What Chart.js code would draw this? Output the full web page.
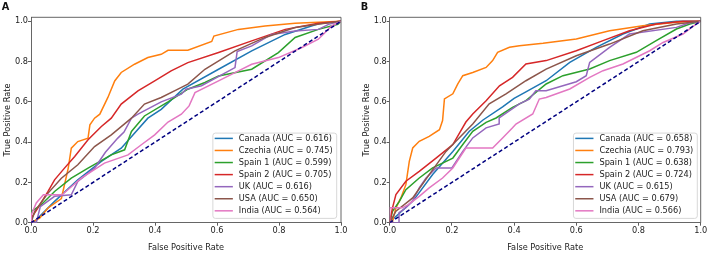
<!DOCTYPE html>
<html><head><meta charset="utf-8">
<script src="https://cdn.jsdelivr.net/npm/chart.js@4.4.1/dist/chart.umd.min.js"></script>
<style>
html,body{margin:0;padding:0;background:#fff;}
#wrap{position:relative;width:708px;height:254px;overflow:hidden;background:#fff;}
canvas{position:absolute;top:0;}
</style></head><body>
<div id="wrap">
<canvas id="cA" width="354" height="254" style="left:0px"></canvas>
<canvas id="cB" width="354" height="254" style="left:354px"></canvas>
</div>
<script>
// ---------- data ----------
const countries = ['Canada', 'Czechia', 'Spain 1', 'Spain 2', 'UK', 'USA', 'India'];
const aucA = ['0.616', '0.745', '0.599', '0.705', '0.616', '0.650', '0.564'];
const aucB = ['0.658', '0.793', '0.638', '0.724', '0.615', '0.679', '0.566'];
const tickValues = [0.0, 0.2, 0.4, 0.6, 0.8, 1.0];
const xTitle = 'False Positive Rate';
const yTitle = 'True Positive Rate';
const chanceLine = [[0, 0], [1, 1]];

// Panel A (FPR, TPR)
const rocA_Canada = [[0,0],[0.012,0.007],[0.076,0.106],[0.151,0.213],[0.227,0.304],[0.291,0.37],[0.377,0.519],[0.42,0.563],[0.49,0.663],[0.605,0.762],[0.712,0.853],[0.82,0.935],[0.927,0.988],[1,1]];
const rocA_Czechia = [[0,0],[0.028,0.023],[0.055,0.073],[0.098,0.12],[0.12,0.27],[0.13,0.37],[0.151,0.403],[0.184,0.42],[0.19,0.486],[0.205,0.519],[0.222,0.539],[0.248,0.622],[0.27,0.704],[0.291,0.746],[0.334,0.787],[0.377,0.82],[0.42,0.836],[0.442,0.856],[0.506,0.856],[0.583,0.9],[0.59,0.927],[0.669,0.96],[0.755,0.977],[0.852,0.99],[1,1]];
const rocA_Spain1 = [[0,0],[0.001,0.056],[0.033,0.089],[0.076,0.155],[0.13,0.221],[0.184,0.271],[0.259,0.337],[0.302,0.362],[0.324,0.453],[0.366,0.53],[0.442,0.6],[0.506,0.663],[0.561,0.696],[0.605,0.729],[0.712,0.762],[0.798,0.845],[0.852,0.92],[0.927,0.96],[0.99,0.985],[1,1]];
const rocA_Spain2 = [[0,0],[0.001,0.023],[0.022,0.073],[0.055,0.155],[0.076,0.213],[0.108,0.271],[0.141,0.329],[0.184,0.412],[0.227,0.478],[0.259,0.519],[0.291,0.589],[0.345,0.655],[0.399,0.704],[0.452,0.754],[0.506,0.795],[0.605,0.845],[0.712,0.903],[0.82,0.96],[0.927,0.99],[1,1]];
const rocA_UK = [[0,0],[0.017,0],[0.03,0.08],[0.076,0.131],[0.13,0.139],[0.151,0.205],[0.205,0.271],[0.24,0.35],[0.28,0.42],[0.3,0.45],[0.324,0.519],[0.345,0.539],[0.42,0.6],[0.485,0.638],[0.5,0.663],[0.55,0.68],[0.658,0.77],[0.665,0.85],[0.712,0.878],[0.776,0.935],[0.852,0.952],[0.927,0.96],[0.96,0.985],[1,1]];
const rocA_USA = [[0,0],[0.012,0.056],[0.055,0.147],[0.098,0.221],[0.151,0.288],[0.205,0.378],[0.259,0.436],[0.324,0.519],[0.366,0.589],[0.42,0.622],[0.474,0.663],[0.506,0.688],[0.561,0.762],[0.658,0.853],[0.755,0.92],[0.852,0.969],[0.948,0.99],[1,1]];
const rocA_India = [[0,0],[0.001,0.04],[0.017,0.098],[0.04,0.139],[0.1,0.139],[0.12,0.165],[0.162,0.221],[0.237,0.296],[0.313,0.337],[0.356,0.387],[0.399,0.436],[0.442,0.5],[0.485,0.539],[0.51,0.58],[0.529,0.646],[0.605,0.704],[0.658,0.745],[0.712,0.787],[0.798,0.82],[0.874,0.87],[0.927,0.911],[0.97,0.977],[1,1]];

// Panel B (FPR, TPR)
const rocB_Canada = [[0,0],[0.009,0.016],[0.074,0.106],[0.138,0.239],[0.203,0.354],[0.256,0.454],[0.3,0.51],[0.363,0.575],[0.4,0.617],[0.438,0.65],[0.503,0.705],[0.579,0.796],[0.664,0.871],[0.75,0.937],[0.836,0.987],[0.922,1],[1,1]];
const rocB_Czechia = [[0,0],[0.009,0.007],[0.02,0.074],[0.036,0.123],[0.052,0.189],[0.063,0.305],[0.074,0.371],[0.095,0.404],[0.127,0.429],[0.16,0.462],[0.17,0.507],[0.176,0.615],[0.203,0.64],[0.219,0.689],[0.235,0.73],[0.267,0.746],[0.31,0.771],[0.331,0.805],[0.347,0.846],[0.385,0.871],[0.417,0.879],[0.493,0.891],[0.6,0.912],[0.707,0.953],[0.814,0.978],[0.922,0.995],[1,1]];
const rocB_Spain1 = [[0,0],[0.009,0.057],[0.031,0.106],[0.052,0.164],[0.095,0.222],[0.138,0.272],[0.203,0.321],[0.235,0.388],[0.267,0.454],[0.31,0.498],[0.342,0.52],[0.395,0.573],[0.438,0.606],[0.503,0.689],[0.557,0.73],[0.643,0.763],[0.707,0.805],[0.793,0.846],[0.857,0.904],[0.922,0.962],[0.965,0.987],[1,1]];
const rocB_Spain2 = [[0,0],[0.009,0.074],[0.02,0.14],[0.052,0.206],[0.095,0.255],[0.149,0.321],[0.203,0.388],[0.245,0.5],[0.267,0.54],[0.31,0.606],[0.353,0.68],[0.395,0.722],[0.438,0.788],[0.503,0.805],[0.6,0.854],[0.686,0.904],[0.771,0.953],[0.857,0.987],[0.943,1],[1,1]];
const rocB_UK = [[0,0],[0.03,0],[0.03,0.05],[0.052,0.074],[0.074,0.11],[0.095,0.173],[0.117,0.222],[0.149,0.272],[0.2,0.272],[0.235,0.354],[0.267,0.421],[0.31,0.471],[0.352,0.49],[0.352,0.52],[0.417,0.59],[0.449,0.614],[0.47,0.655],[0.503,0.655],[0.6,0.7],[0.632,0.73],[0.643,0.796],[0.707,0.871],[0.771,0.937],[0.922,0.97],[0.96,0.99],[1,1]];
const rocB_USA = [[0,0],[0.02,0.057],[0.074,0.123],[0.127,0.239],[0.181,0.354],[0.213,0.404],[0.267,0.49],[0.32,0.59],[0.374,0.64],[0.438,0.705],[0.503,0.763],[0.6,0.829],[0.707,0.887],[0.814,0.953],[0.922,0.987],[1,1]];
const rocB_India = [[0,0],[0,0.074],[0.04,0.074],[0.06,0.09],[0.095,0.131],[0.127,0.173],[0.17,0.222],[0.203,0.272],[0.245,0.371],[0.331,0.371],[0.363,0.421],[0.395,0.471],[0.406,0.49],[0.46,0.54],[0.481,0.614],[0.503,0.622],[0.579,0.664],[0.643,0.722],[0.686,0.755],[0.75,0.788],[0.836,0.854],[0.879,0.895],[0.943,0.937],[0.986,0.987],[1,1]];

const curvesA = [rocA_Canada, rocA_Czechia, rocA_Spain1, rocA_Spain2, rocA_UK, rocA_USA, rocA_India];
const curvesB = [rocB_Canada, rocB_Czechia, rocB_Spain1, rocB_Spain2, rocB_UK, rocB_USA, rocB_India];
const colors = ['#1f77b4', '#ff7f0e', '#2ca02c', '#d62728', '#9467bd', '#8c564b', '#e377c2'];

// ---------- rendering ----------
const FONT = 'DejaVu Sans';
const FS = 8.2;

function makeDatasets(curves, aucs) {
  const ds = [{
    label: '', isChance: true,
    data: chanceLine.map(p => ({x: p[0], y: p[1]})),
    borderColor: '#000080', borderWidth: 1.5, borderDash: [4, 2.5],
    pointRadius: 0, fill: false, order: 0
  }];
  curves.forEach((c, i) => {
    ds.push({
      label: countries[i] + ' (AUC = ' + aucs[i] + ')',
      data: c.map(p => ({x: p[0], y: p[1]})),
      borderColor: colors[i], borderWidth: 1.5,
      pointRadius: 0, fill: false, tension: 0, order: 10 - i
    });
  });
  return ds;
}

const decor = {
  id: 'decor',
  afterDraw(chart, args, opts) {
    const ctx = chart.ctx, a = chart.chartArea;
    ctx.save();
    // top & right spines
    ctx.strokeStyle = '#555'; ctx.lineWidth = 0.9;
    ctx.beginPath();
    ctx.moveTo(a.left, a.top); ctx.lineTo(a.right, a.top); ctx.lineTo(a.right, a.bottom);
    ctx.stroke();
    // legend
    const items = chart.data.datasets.filter(d => !d.isChance);
    ctx.font = FS + 'px "' + FONT + '"';
    let maxW = 0;
    items.forEach(d => { maxW = Math.max(maxW, ctx.measureText(d.label).width); });
    const w = 26 + maxW + 4, h = 85.3;
    const right = a.right - opts.legendGap, bottom = a.bottom - 4.3;
    const left = right - w, top = bottom - h;
    ctx.beginPath();
    if (ctx.roundRect) ctx.roundRect(left, top, w, h, 2.5); else ctx.rect(left, top, w, h);
    ctx.fillStyle = 'rgba(255,255,255,0.85)'; ctx.fill();
    ctx.strokeStyle = '#d4d4d4'; ctx.lineWidth = 0.9; ctx.stroke();
    ctx.textBaseline = 'middle'; ctx.textAlign = 'left';
    items.forEach((d, i) => {
      const cy = top + 5.3 + i * 12.07;
      ctx.strokeStyle = d.borderColor; ctx.lineWidth = 1.5; ctx.setLineDash([]);
      ctx.beginPath(); ctx.moveTo(left + 1.8, cy); ctx.lineTo(left + 20, cy); ctx.stroke();
      ctx.fillStyle = '#222'; ctx.fillText(d.label, left + 26, cy + 0.5);
    });
    // panel letter
    ctx.font = 'bold 9.8px "' + FONT + '"';
    ctx.fillStyle = '#111'; ctx.textBaseline = 'alphabetic';
    ctx.fillText(opts.letter, opts.letterX, 10.2);
    ctx.restore();
  }
};

function makeChart(id, curves, aucs, cfg) {
  const setTicks = s => { s.ticks = tickValues.map(v => ({value: v})); };
  const tickFont = {family: FONT, size: FS};
  return new Chart(document.getElementById(id), {
    type: 'line',
    data: {datasets: makeDatasets(curves, aucs)},
    options: {
      responsive: false, animation: false, devicePixelRatio: 1,
      layout: {padding: {left: 0, right: cfg.padRight, top: 17.3, bottom: 0}},
      plugins: {legend: {display: false}, tooltip: {enabled: false},
                decor: {letter: cfg.letter, letterX: cfg.letterX, legendGap: cfg.legendGap}},
      scales: {
        x: {
          type: 'linear', min: 0, max: 1,
          afterBuildTicks: setTicks,
          afterFit: s => { s.height = 31.3; },
          ticks: {font: tickFont, color: '#222', padding: 0, maxRotation: 0,
                  callback: v => Number(v).toFixed(1)},
          grid: {display: true, drawOnChartArea: false, drawTicks: true, tickLength: 3,
                 color: '#333', lineWidth: 0.8},
          border: {display: true, color: '#555', width: 0.9},
          title: {display: true, text: xTitle, font: tickFont, color: '#222',
                  padding: {top: 0, bottom: 0.8}}
        },
        y: {
          type: 'linear', min: 0, max: 1.02,
          afterBuildTicks: setTicks,
          afterFit: s => { s.width = cfg.yWidth; },
          ticks: {font: tickFont, color: '#222', padding: 0,
                  callback: v => Number(v).toFixed(1)},
          grid: {display: true, drawOnChartArea: false, drawTicks: true, tickLength: 3,
                 color: '#333', lineWidth: 0.8},
          border: {display: true, color: '#555', width: 0.9},
          title: {display: true, text: yTitle, font: tickFont, color: '#222',
                  padding: {top: cfg.yTitlePad, bottom: 0}}
        }
      }
    },
    plugins: [decor]
  });
}

makeChart('cA', curvesA, aucA, {padRight: 13, yWidth: 31, yTitlePad: 3.4, letter: 'A', letterX: 1.7, legendGap: 4.3});
makeChart('cB', curvesB, aucB, {padRight: 7.3, yWidth: 35.7, yTitlePad: 8.4, letter: 'B', letterX: 6.7, legendGap: 3.4});
</script>
</body></html>
